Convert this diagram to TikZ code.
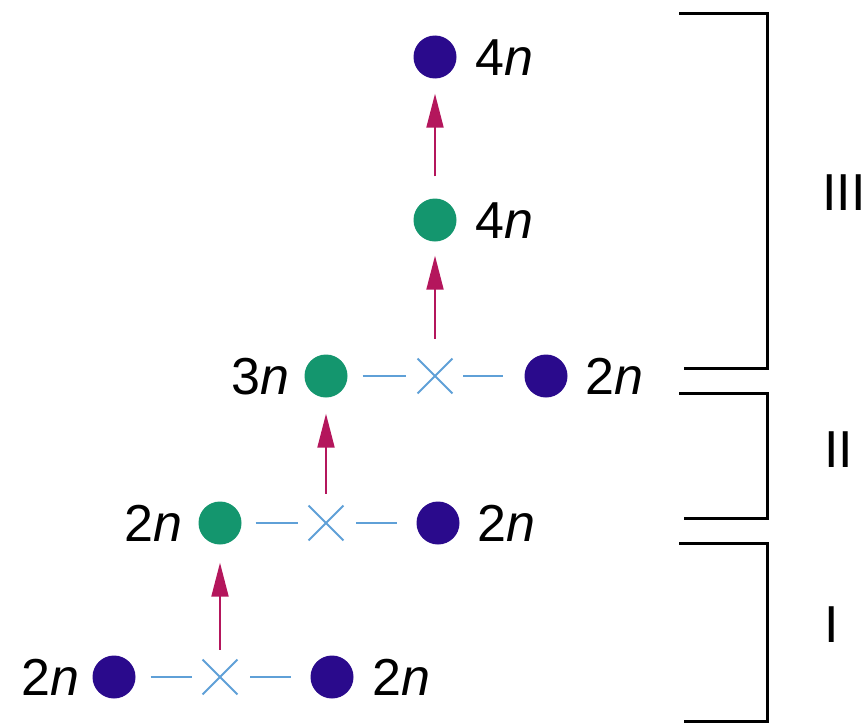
\documentclass[tikz,border=0pt]{standalone}
\usepackage{fontspec}
\setmainfont{Liberation Sans}
\usetikzlibrary{arrows.meta,shapes.misc}
\definecolor{dotblue}{RGB}{42,10,140}
\definecolor{dotgreen}{RGB}{20,150,110}
\definecolor{xblue}{RGB}{95,160,215}
\definecolor{arrred}{RGB}{180,22,92}
\tikzset{
  bdot/.style={circle,fill=dotblue,minimum size=43pt,inner sep=0pt},
  gdot/.style={circle,fill=dotgreen,minimum size=43pt,inner sep=0pt},
  xmark/.style={cross out,draw=xblue,line width=1.8pt,minimum size=33pt,inner sep=0pt},
  bond/.style={draw=xblue,line width=1.8pt},
  uparr/.style={draw=arrred,line width=2pt,-{Triangle[length=34pt,width=17pt]}},
  lab/.style={font=\fontsize{52}{60}\selectfont,inner sep=0pt},
  bracket/.style={draw=black,line width=3pt},
}
\newcommand{\nn}[1]{#1\textit{n}}
\begin{document}
\begin{tikzpicture}[x=1pt,y=-1pt]
\useasboundingbox (0,0) rectangle (866,725);
% row 1
\node[bdot] (a1) at (114,677) {};
\node[xmark] (x1) at (220,677) {};
\node[bdot] (b1) at (332,677) {};
\node[lab,anchor=base east] (ta1) at (80,695) {\nn{2}};
\node[lab,anchor=base west] (tb1) at (372,695) {\nn{2}};
% row 2
\node[gdot] (a2) at (220,523) {};
\node[xmark] (x2) at (326,523) {};
\node[bdot] (b2) at (438,523) {};
\node[lab,anchor=base east] (ta2) at (183,541) {\nn{2}};
\node[lab,anchor=base west] (tb2) at (477,541) {\nn{2}};
% row 3
\node[gdot] (a3) at (326,376) {};
\node[xmark] (x3) at (435,376) {};
\node[bdot] (b3) at (546,376) {};
\node[lab,anchor=base east] (ta3) at (290,394) {\nn{3}};
\node[lab,anchor=base west] (tb3) at (585,394) {\nn{2}};
% column
\node[gdot] (g4) at (435,220) {};
\node[lab,anchor=base west] (t4) at (475,238) {\nn{4}};
\node[bdot] (b5) at (435,57) {};
\node[lab,anchor=base west] (t5) at (475,75) {\nn{4}};
% bonds
\draw[bond,shorten <=15pt,shorten >=11pt] (a1) -- (x1);
\draw[bond,shorten <=13pt,shorten >=19pt] (x1) -- (b1);
\draw[bond,shorten <=14pt,shorten >=11pt] (a2) -- (x2);
\draw[bond,shorten <=13pt,shorten >=19pt] (x2) -- (b2);
\draw[bond,shorten <=15pt,shorten >=12pt] (a3) -- (x3);
\draw[bond,shorten <=11pt,shorten >=21pt] (x3) -- (b3);
% arrows
\draw[uparr,shorten <=10pt,shorten >=18pt] (x1.north) -- (a2.south);
\draw[uparr,shorten <=12pt,shorten >=16pt] (x2.north) -- (a3.south);
\draw[uparr,shorten <=20pt,shorten >=14pt] (x3.north) -- (g4.south);
\draw[uparr,shorten <=22pt,shorten >=15pt] (g4.north) -- (b5.south);
% brackets
\coordinate (k1) at (679,13.5);
\coordinate (k2) at (684,368);
\coordinate (k3) at (679,393);
\coordinate (k4) at (684,518);
\coordinate (k5) at (679,543);
\coordinate (k6) at (684,721);
\draw[bracket] (k1) -| (767,368) -- (k2);
\draw[bracket] (k3) -| (767,518) -- (k4);
\draw[bracket] (k5) -| (767,721) -- (k6);
\node[lab,anchor=west] (r3) at (822,193) {III};
\node[lab,anchor=west] (r2) at (824,450) {II};
\node[lab,anchor=west] (r1) at (824,625) {I};
\end{tikzpicture}
\end{document}
